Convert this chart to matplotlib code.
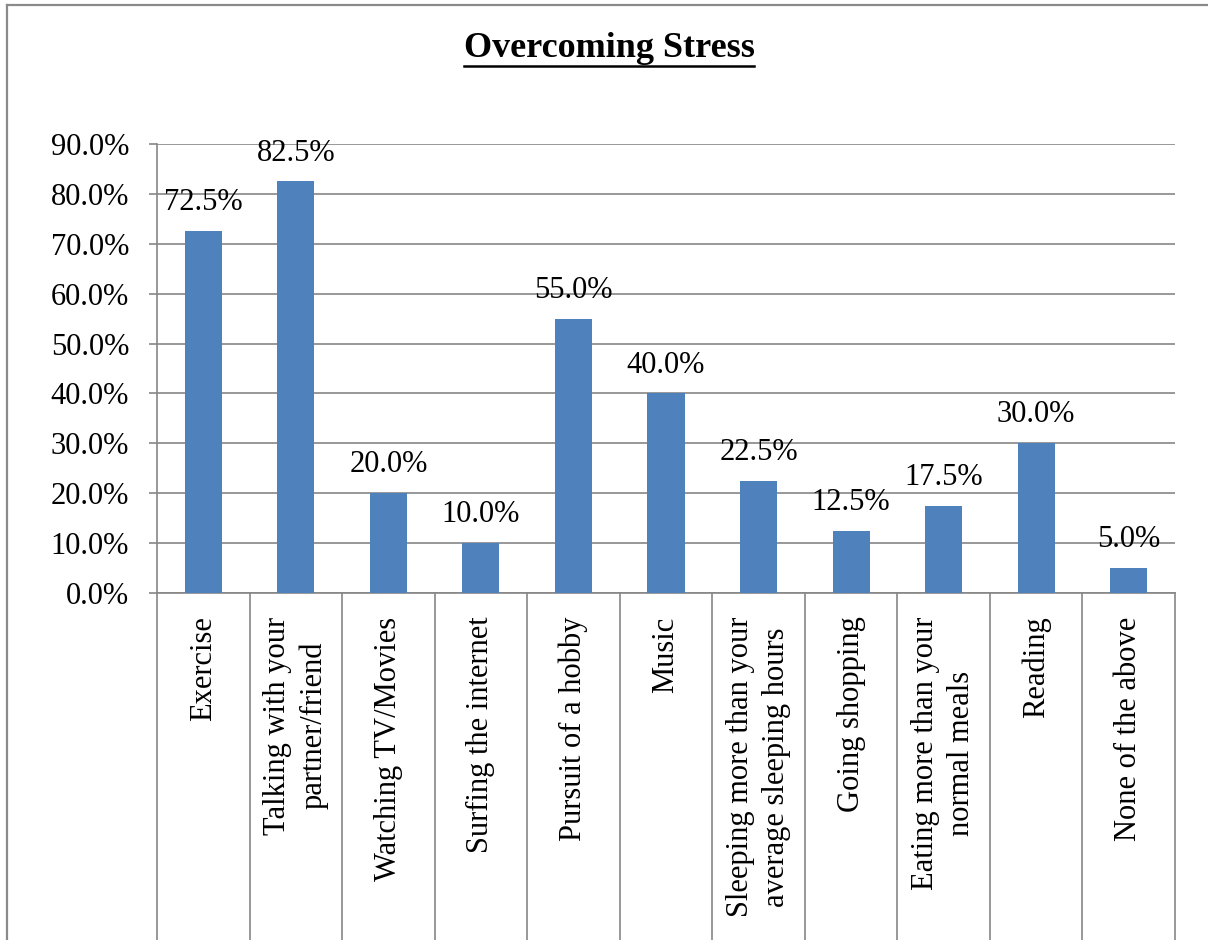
import matplotlib
matplotlib.use("Agg")
import numpy as np
import matplotlib.pyplot as plt
import matplotlib.transforms as mtransforms
from matplotlib.lines import Line2D

# Survey results: ways respondents overcome stress
categories = [
    "Exercise",
    "Talking with your\npartner/friend",
    "Watching TV/Movies",
    "Surfing the internet",
    "Pursuit of a hobby",
    "Music",
    "Sleeping more than your\naverage sleeping hours",
    "Going shopping",
    "Eating more than your\nnormal meals",
    "Reading",
    "None of the above",
]
percent = [72.5, 82.5, 20.0, 10.0, 55.0, 40.0, 22.5, 12.5, 17.5, 30.0, 5.0]
y_ticks = [0, 10, 20, 30, 40, 50, 60, 70, 80, 90]
title = "Overcoming Stress"

SERIF = ["Liberation Serif", "DejaVu Serif"]
BAR_BLUE = "#4F81BD"
GRID_GREY = "#868686"

W, H = 1208, 940
fig = plt.figure(figsize=(W / 100, H / 100), dpi=100)
fig.patch.set_facecolor("white")

# Outer chart frame (left and top edges inside the canvas)
frame_kw = dict(color="#8a8a8a", lw=1.6, transform=fig.transFigure)
fig.add_artist(Line2D([7 / W, 7 / W], [0, 1 - 5 / H], **frame_kw))
fig.add_artist(Line2D([7 / W, 1], [1 - 5 / H, 1 - 5 / H], **frame_kw))

ax = fig.add_axes([157 / W, 1 - 593 / H, (1175 - 157) / W, (593 - 144) / H])
n = len(categories)
xpos = np.arange(n)
ax.bar(xpos, percent, width=0.4, color=BAR_BLUE, zorder=3)

ax.set_xlim(-0.5, n - 0.5)
ax.set_ylim(0, 90)
ax.set_yticks(y_ticks)
ax.set_yticklabels([f"{v:.1f}%" for v in y_ticks], family=SERIF, fontsize=22)
ax.yaxis.grid(True, color=GRID_GREY, lw=1.2, zorder=0)
ax.set_axisbelow(True)
for side in ("top", "right"):
    ax.spines[side].set_visible(False)
for side in ("left", "bottom"):
    ax.spines[side].set_color(GRID_GREY)
    ax.spines[side].set_linewidth(1.2)
ax.tick_params(axis="y", length=6, width=1.2, color=GRID_GREY, pad=14)
ax.tick_params(axis="x", bottom=False, labelbottom=False)

# Category dividers running down through the label area
blend = mtransforms.blended_transform_factory(ax.transData, ax.transAxes)
for b in np.arange(-0.5, n):
    ax.add_line(Line2D([b, b], [0, -0.85], transform=blend, clip_on=False,
                       color=GRID_GREY, lw=1.2))

# Category labels, rotated and hanging from the axis
for i, lab in enumerate(categories):
    ax.annotate(lab, (i, 0), xytext=(0, -17), textcoords="offset points",
                rotation=90, ha="center", va="top", multialignment="center",
                linespacing=1.3, fontsize=22, family=SERIF, annotation_clip=False)

# Value labels above bars
for i, v in enumerate(percent):
    ax.annotate(f"{v:.1f}%", (i, v), xytext=(0, 10), textcoords="offset points",
                ha="center", va="bottom", fontsize=22, family=SERIF, zorder=4)

# Underlined bold title
t = fig.text(609 / W, 1 - 57 / H, title, ha="center", va="baseline",
             fontsize=26, fontweight="bold", family=SERIF)
renderer = fig.canvas.get_renderer()
bb = t.get_window_extent(renderer)
uy = (H - 66) / H
fig.add_artist(Line2D([bb.x0 / W, bb.x1 / W], [uy, uy], color="black", lw=1.8,
                      transform=fig.transFigure))

fig.savefig("out.png", dpi=100)
